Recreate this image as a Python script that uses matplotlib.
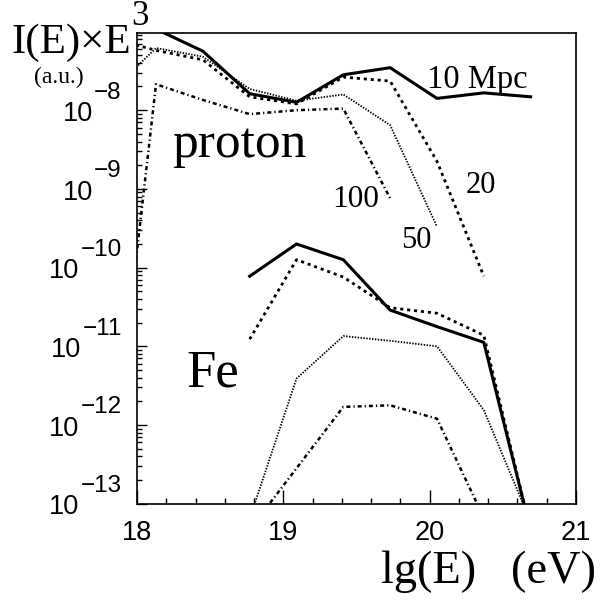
import numpy as np
import matplotlib.pyplot as plt
from matplotlib.ticker import LogLocator, MultipleLocator

nan = np.nan
# lg(E) bins
lgE = [17.81, 18.13, 18.45, 18.77, 19.09, 19.41, 19.73, 20.05, 20.37, 20.69]
# log10(I(E) x E^3), protons, source distance 10/20/50/100 Mpc
p10 = [nan, -6.97, -7.25, -7.79, -7.90, -7.55, -7.46, -7.85, -7.78, -7.83]
p20 = [-7.08, -7.24, -7.36, -7.83, -7.92, -7.58, -7.63, -8.65, -10.11, nan]
p50 = [-7.79, -7.21, -7.32, -7.73, -7.88, -7.80, -8.19, -9.48, nan, nan]
p100 = [-12.88, -7.67, -7.87, -8.05, -8.00, -7.98, -9.12, nan, nan, nan]
# iron
fe10 = [nan, nan, nan, -10.11, -9.70, -9.90, -10.54, -10.75, -10.95, -13.34]
fe20 = [nan, nan, nan, -10.91, -9.90, -10.12, -10.51, -10.58, -10.86, -13.34]
fe50 = [nan, nan, nan, -13.19, -11.41, -10.87, -10.93, -11.00, -11.81, -13.23]
fe100 = [nan, nan, nan, -13.33, -12.55, -11.77, -11.75, -11.92, -13.18, nan]

xticks = [18, 19, 20, 21]
ydecades = [-13, -12, -11, -10, -9, -8]

W, H = 607, 600
fig = plt.figure(figsize=(W / 100, H / 100), dpi=100)
ax = fig.add_axes([137 / W, 1 - 503.7 / H, (576 - 137) / W, (503.7 - 33.3) / H])

styles = [
    dict(color='k', lw=2.2, ls='-'),
    dict(color='k', lw=2.0, ls=(0, (1.1, 1.4))),
    dict(color='k', lw=1.3, ls=(0, (0.8, 0.8))),
    dict(color='k', lw=1.8, ls=(0, (1.6, 1.2, 0.5, 1.2))),
]
for ys, st in zip([p10, p20, p50, p100], styles):
    ax.plot(lgE, 10.0 ** np.array(ys), **st)
for ys, st in zip([fe10, fe20, fe50, fe100], styles):
    ax.plot(lgE, 10.0 ** np.array(ys), **st)

ax.set_yscale('log')
ax.set_xlim(18, 21)
ax.set_ylim(1e-13, 10 ** -7.023)

ax.set_xticks(xticks)
ax.set_xticklabels([str(t) for t in xticks])
ax.xaxis.set_minor_locator(MultipleLocator(0.2))
ax.set_yticks([10.0 ** e for e in ydecades])
ax.yaxis.set_minor_locator(LogLocator(base=10, subs=np.arange(2, 10)))
ax.tick_params(axis='both', which='both', direction='in', top=False, right=False, width=1)
ax.tick_params(axis='x', which='major', length=10, pad=12, labelsize=19.5)
ax.tick_params(axis='x', which='minor', length=4.3)
ax.tick_params(axis='y', which='major', length=7.2, labelleft=False)
ax.tick_params(axis='y', which='minor', length=3.6)
for lab in ax.get_xticklabels():
    lab.set_fontfamily('Liberation Sans')
for s in ax.spines.values():
    s.set_linewidth(1.2)

# y labels drawn ROOT-like: "10" centred on the tick, exponent raised
renderer = fig.canvas.get_renderer()
for e in ydecades:
    ex = ax.annotate('\u2212%d' % abs(e), xy=(0, 10.0 ** e),
                     xycoords=('axes fraction', 'data'),
                     xytext=(-15.3, 11.5), textcoords='offset pixels',
                     ha='right', va='baseline', fontsize=17.5,
                     family='Liberation Sans')
    wpx = ex.get_window_extent(renderer).width
    ax.annotate('10', xy=(0, 10.0 ** e), xycoords=('axes fraction', 'data'),
                xytext=(-15.3 - wpx - 1, -10.7), textcoords='offset pixels',
                ha='right', va='baseline', fontsize=19.5,
                family='Liberation Sans')

def ftxt(x, y, s, size):
    fig.text(x / W, 1 - y / H, s, fontsize=size, family='Liberation Serif',
             ha='left', va='baseline')

ftxt(12, 53.3, 'I(E)\u00d7E', 31)
ftxt(131, 25, '3', 25)
ftxt(34, 83.5, '(a.u.)', 17)
ftxt(172, 156.7, 'proton', 37)
ftxt(186, 386.7, 'Fe', 38)
ftxt(427, 88.3, '10 Mpc', 23.5)
ftxt(466, 193.3, '20', 22)
ftxt(332, 206.7, '100', 22.5)
ftxt(401, 248.3, '50', 22)
ftxt(381, 583, 'lg(E)   (eV)', 33.5)

fig.savefig('out.png', dpi=100)
